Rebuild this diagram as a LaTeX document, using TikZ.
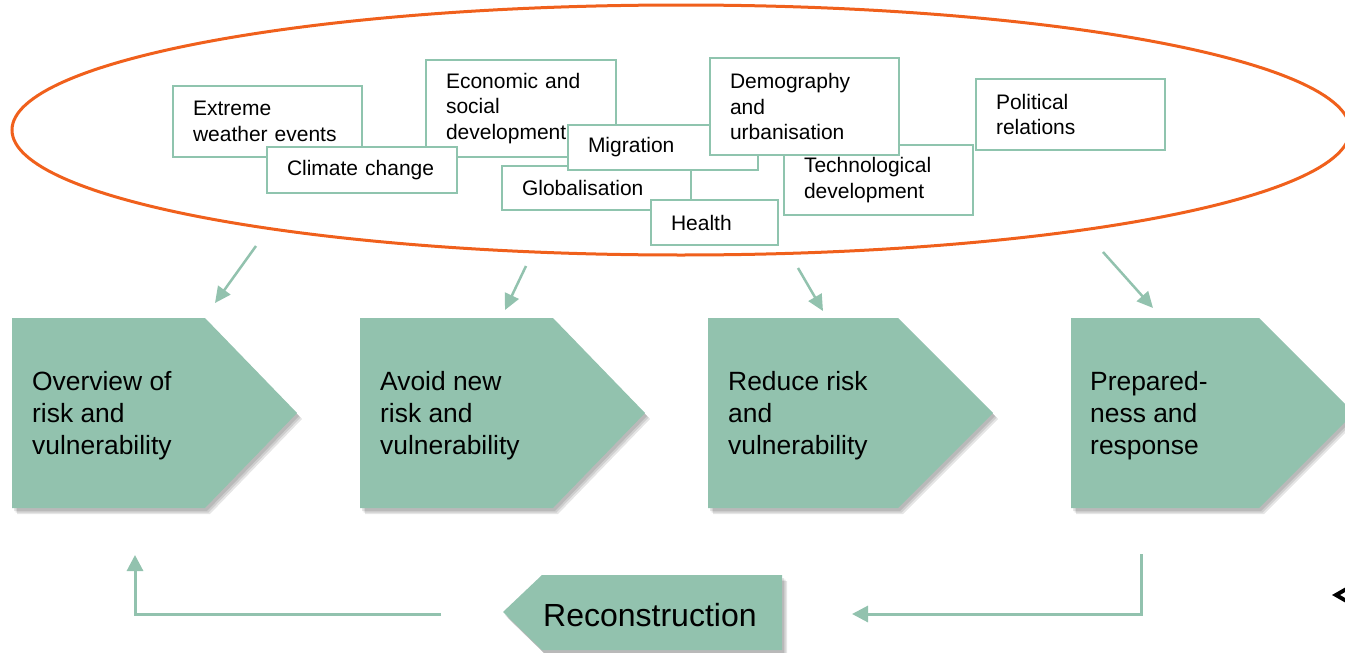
\documentclass[tikz,border=0pt]{standalone}
\usepackage{fontspec}
\setmainfont{Liberation Sans}
\usetikzlibrary{arrows.meta,shapes.geometric}
\definecolor{pgreen}{RGB}{146,194,174}
\definecolor{bgreen}{RGB}{143,196,174}
\definecolor{eorange}{RGB}{240,96,28}
\tikzset{
  factor/.style={draw=bgreen, line width=2.5pt, fill=white, rectangle, inner xsep=20pt, inner ysep=0pt, align=left, anchor=center, font=\fontsize{21}{25.7}\selectfont},
  pentshape/.style={fill=pgreen, draw=none,
    preaction={fill=black, opacity=0.10, transform canvas={xshift=2pt, yshift=-3pt}},
    preaction={fill=black, opacity=0.10, transform canvas={xshift=3.5pt, yshift=-4.5pt}},
    preaction={fill=black, opacity=0.10, transform canvas={xshift=5pt, yshift=-6pt}}},
  ptext/.style={inner sep=0pt, align=left, anchor=west, font=\fontsize{26.4}{32}\selectfont},
  feed/.style={draw=pgreen, line width=2.5pt, -{Triangle[length=16pt,width=15pt]}},
  conn/.style={draw=pgreen, line width=3pt, -{Triangle[length=16pt,width=16pt]}},
}
\begin{document}
\begin{tikzpicture}[x=1pt,y=-1pt]
\useasboundingbox (0,0) rectangle (1345,653);
% ellipse
\node[ellipse, draw=eorange, line width=3pt, minimum width=1338pt, minimum height=250pt, inner sep=0pt, outer sep=0pt] (ell) at (681,130) {};
% factor boxes
\node[factor, text width=149pt, minimum height=71pt] (extreme) at (267.5,121.5) {Extreme\\weather events};
\node[factor, text width=150pt, minimum height=97pt] (econ) at (521,108.5) {Economic and\\social\\development};
\node[factor, text width=150pt, minimum height=46pt] (climate) at (362,170) {Climate change};
\node[factor, text width=149pt, minimum height=44pt] (glob) at (596.5,188) {Globalisation};
\node[factor, text width=150pt, minimum height=45pt] (migr) at (663,147.5) {Migration};
\node[factor, text width=149pt, minimum height=70pt] (tech) at (878.5,180) {Technological\\development};
\node[factor, text width=149pt, minimum height=97pt] (demo) at (804.5,106.5) {Demography\\and\\urbanisation};
\node[factor, text width=87pt, minimum height=45pt] (health) at (714.5,222.5) {Health};
\node[factor, text width=149pt, minimum height=71pt] (polit) at (1070.5,114.5) {Political\\relations};
% pentagons
\path[pentshape] (12,318) -- ++(193,0) -- ++(92,95) -- ++(-92,95) -- ++(-193,0) -- cycle;
\path[pentshape] (360,318) -- ++(193,0) -- ++(92,95) -- ++(-92,95) -- ++(-193,0) -- cycle;
\path[pentshape] (708,318) -- ++(190,0) -- ++(95,95) -- ++(-95,95) -- ++(-190,0) -- cycle;
\path[pentshape] (1071,318) -- ++(188,0) -- ++(95,95) -- ++(-95,95) -- ++(-188,0) -- cycle;
\node[ptext] (p1) at (32,416) {Overview of\\risk and\\vulnerability};
\node[ptext] (p2) at (380,416) {Avoid new\\risk and\\vulnerability};
\node[ptext] (p3) at (728,416) {Reduce risk\\and\\vulnerability};
\node[ptext] (p4) at (1090,416) {Prepared-\\ness and\\response};
% reconstruction
\path[pentshape] (782,575) -- (542,575) -- (503,612) -- (542,650) -- (782,650) -- cycle;
\node[inner sep=0pt, anchor=west, font=\fontsize{32}{38}\selectfont] (recon) at (543,615) {Reconstruction};
% feed arrows
\coordinate (a1s) at (256,246); \coordinate (a1e) at (215,303);
\coordinate (a2s) at (526,266); \coordinate (a2e) at (505,310);
\coordinate (a3s) at (798,268); \coordinate (a3e) at (823,311);
\coordinate (a4s) at (1103,252); \coordinate (a4e) at (1153,308);
\draw[feed] (a1s) -- (a1e);
\draw[feed] (a2s) -- (a2e);
\draw[feed] (a3s) -- (a3e);
\draw[feed] (a4s) -- (a4e);
% bottom connectors
\coordinate (b1) at (1141,554); \coordinate (b2) at (852,614);
\draw[conn] (b1) |- (b2);
\coordinate (b3) at (441,614); \coordinate (b4) at (135,555);
\draw[conn] (b3) -| (b4);
% black mark at edge
\fill[black] (1346,587) -- (1332,595) -- (1346,603) -- (1346,598.5) -- (1340,595) -- (1346,591.5) -- cycle;
\end{tikzpicture}
\end{document}
